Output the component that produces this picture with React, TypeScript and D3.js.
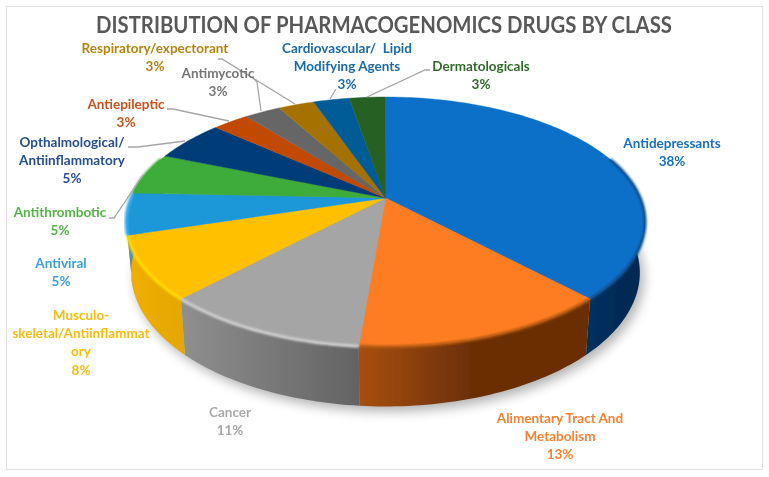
import React from 'react';
import * as d3 from 'd3';

const categories = [
  'Antidepressants', 'Alimentary Tract And Metabolism', 'Cancer', 'Musculo-skeletal/Antiinflammatory',
  'Antiviral', 'Antithrombotic', 'Opthalmological/Antiinflammatory', 'Antiepileptic',
  'Antimycotic', 'Respiratory/expectorant', 'Cardiovascular/ Lipid Modifying Agents', 'Dermatologicals',
];
const shares = [37.8, 13.5, 10.8, 8.1, 5.4, 5.4, 5.4, 2.7, 2.7, 2.7, 2.7, 2.7];
const percentLabels = ['38%', '13%', '11%', '8%', '5%', '5%', '5%', '3%', '3%', '3%', '3%', '3%'];

const topColors = ['#0e70c8', '#ff7d24', '#a5a5a5', '#ffc000', '#1f97d8', '#3eac3a', '#033d78', '#c14a00', '#666666', '#a57100', '#005b96', '#266020'];
const wallFrom = ['#00305e', '#a8500f', '#8f8f8f', '#f0ae00', '#5f8aa6', '#2f8a2c', '#022c58', '#8f3700', '#4c4c4c', '#7a5400', '#00426e', '#1b4617'];
const wallTo = ['#00284f', '#6a2e06', '#636363', '#e5a800', '#5f8aa6', '#2f8a2c', '#022c58', '#8f3700', '#4c4c4c', '#7a5400', '#00426e', '#1b4617'];
const wallFade = [1, 0.5, 1, 1, 1, 1, 1, 1, 1, 1, 1, 1];
const bevelColors = ['#0a4f90', '#b0560f', '#d0d0d0', '#ffdd00', '#45b4ee', '#3eac3a', '#033d78', '#c14a00', '#666666', '#a57100', '#005b96', '#266020'];
const labelColors = ['#1a6fc4', '#f98132', '#a9a9a9', '#f9bd0c', '#3a9fdc', '#55b446', '#254f8d', '#c8531a', '#767676', '#b58413', '#1a6aa8', '#2f6b2a'];

// label lines + baselines, by slice
const labelLayout = [
  { x: 672, y: 148, lines: ['Antidepressants'] },
  { x: 560, y: 423, lines: ['Alimentary Tract And', 'Metabolism'] },
  { x: 230, y: 417, lines: ['Cancer'] },
  { x: 81, y: 320, lines: ['Musculo-', 'skeletal/Antiinflammat', 'ory'] },
  { x: 61, y: 268, lines: ['Antiviral'] },
  { x: 60, y: 217, lines: ['Antithrombotic'] },
  { x: 72, y: 147, lines: ['Opthalmological/', 'Antiinflammatory'] },
  { x: 126, y: 109, lines: ['Antiepileptic'] },
  { x: 218, y: 78, lines: ['Antimycotic'] },
  { x: 155, y: 53, lines: ['Respiratory/expectorant'] },
  { x: 347, y: 53, lines: ['Cardiovascular/  Lipid', 'Modifying Agents'] },
  { x: 481, y: 71, lines: ['Dermatologicals'] },
];

const leaders: [number, number][][] = [
  [[109, 218], [114, 218], [143, 175]],
  [[128, 147], [138, 147], [185, 141]],
  [[167, 109], [173, 109], [229, 121]],
  [[252, 77], [257, 82], [261, 111]],
  [[218, 59], [222, 59], [295, 104]],
  [[330, 99], [336, 89]],
  [[367, 97], [425, 70], [430, 70]],
];

const WIDTH = 769;
const HEIGHT = 477;
const apex = { x: 385.5, y: 198 };
const persp = { a: 254.7, b: 120.4, k: 0.192 };
const wall = { sx: 0.98, sy: 1.07, dy: 49 };

// disc is drawn in perspective, so the centre isn't the middle of the ellipse
const project = (t: number): [number, number] => {
  const u = Math.sin(t);
  const v = -Math.cos(t);
  const d = 1 - persp.k * v;
  return [(persp.a * u) / d, (persp.b * v) / d];
};
const topPoint = (t: number): [number, number] => {
  const [x, y] = project(t);
  return [apex.x + x, apex.y + y];
};
const basePoint = (t: number): [number, number] => {
  const [x, y] = project(t);
  return [apex.x + x * wall.sx, apex.y + y * wall.sy + wall.dy];
};
const sample = (a: number, b: number) => {
  const n = Math.max(2, Math.ceil((b - a) / 0.02));
  return d3.range(n + 1).map(i => a + ((b - a) * i) / n);
};

const line = d3.line();
const slices = d3.pie<number>().sort(null).value(d => d)(shares);
const FRONT_A = (70 * Math.PI) / 180;
const FRONT_B = (290 * Math.PI) / 180;
const fullTurn = sample(0, Math.PI * 2);

export default function App() {
  return (
    <svg width={WIDTH} height={HEIGHT} style={{ position: 'absolute', left: 0, top: 0, display: 'block' }}
      fontFamily="Lato, 'Open Sans', sans-serif">
      <defs>
        <filter id="soft" x="0" y="0" width="100%" height="100%"><feGaussianBlur stdDeviation="0.45" /></filter>
        <filter id="shadow" x="-20%" y="-20%" width="140%" height="140%"><feGaussianBlur stdDeviation="6" /></filter>
        <filter id="bevel" x="-20%" y="-20%" width="140%" height="140%"><feGaussianBlur stdDeviation="1.3" /></filter>
        {slices.map((s, i) => {
          const a = Math.max(s.startAngle, FRONT_A);
          const b = Math.min(s.endAngle, FRONT_B);
          if (a >= b) return null;
          const xs = sample(a, b).map(t => topPoint(t)[0]);
          return (
            <linearGradient key={i} id={`wall-${i}`} gradientUnits="userSpaceOnUse"
              x1={d3.min(xs)} x2={d3.max(xs)} y1="0" y2="0">
              <stop offset="0%" stopColor={wallFrom[i]} />
              <stop offset={wallFade[i]} stopColor={wallTo[i]} />
            </linearGradient>
          );
        })}
      </defs>
      <rect x={0} y={0} width={WIDTH} height={HEIGHT} fill="#fff" />
      <g filter="url(#soft)">
        <rect x={6} y={6} width={757} height={464} fill="#fff" stroke="#d9d9d9" strokeWidth={1.5} />
        <text x={384} y={33} textAnchor="middle" fontSize={22.5} fontWeight={700} fill="#595959"
          textLength={576} lengthAdjust="spacingAndGlyphs">
          DISTRIBUTION OF PHARMACOGENOMICS DRUGS BY CLASS
        </text>

        <path d={line(fullTurn.map(t => { const [x, y] = basePoint(t); return [x + 4, y + 5] as [number, number]; })) + 'Z'}
          fill="#000" opacity={0.3} filter="url(#shadow)" />

        {slices.map((s, i) => {
          const a = Math.max(s.startAngle, FRONT_A);
          const b = Math.min(s.endAngle, FRONT_B);
          if (a >= b) return null;
          const ts = sample(a, b);
          const pts = [...ts.map(topPoint), ...ts.slice().reverse().map(basePoint)];
          return <path key={i} d={line(pts) + 'Z'} fill={`url(#wall-${i})`} />;
        })}

        {slices.map((s, i) => {
          const pts: [number, number][] = [[apex.x, apex.y], ...sample(s.startAngle, s.endAngle).map(topPoint)];
          return (
            <path key={i} d={line(pts) + 'Z'} fill={topColors[i]} stroke={topColors[i]} strokeWidth={0.4}>
              <title>{categories[i]}</title>
            </path>
          );
        })}

        {slices.map((s, i) => {
          const a = Math.max(s.startAngle, FRONT_A);
          const b = Math.min(s.endAngle, FRONT_B);
          if (a >= b) return null;
          return <path key={i} d={line(sample(a, b).map(topPoint)) ?? ''} fill="none" stroke={bevelColors[i]} strokeWidth={3} filter="url(#bevel)" />;
        })}

        {leaders.map((pts, i) => (
          <path key={i} d={line(pts) ?? ''} fill="none" stroke="#a6a6a6" strokeWidth={1.3} />
        ))}

        {labelLayout.map((l, i) => (
          <text key={i} textAnchor="middle" fontSize={13.5} fontWeight={700} fill={labelColors[i]}>
            {[...l.lines, percentLabels[i]].map((txt, j) => (
              <tspan key={j} x={l.x} y={l.y + j * 18.2} xmlSpace="preserve">{txt}</tspan>
            ))}
          </text>
        ))}
      </g>
    </svg>
  );
}
